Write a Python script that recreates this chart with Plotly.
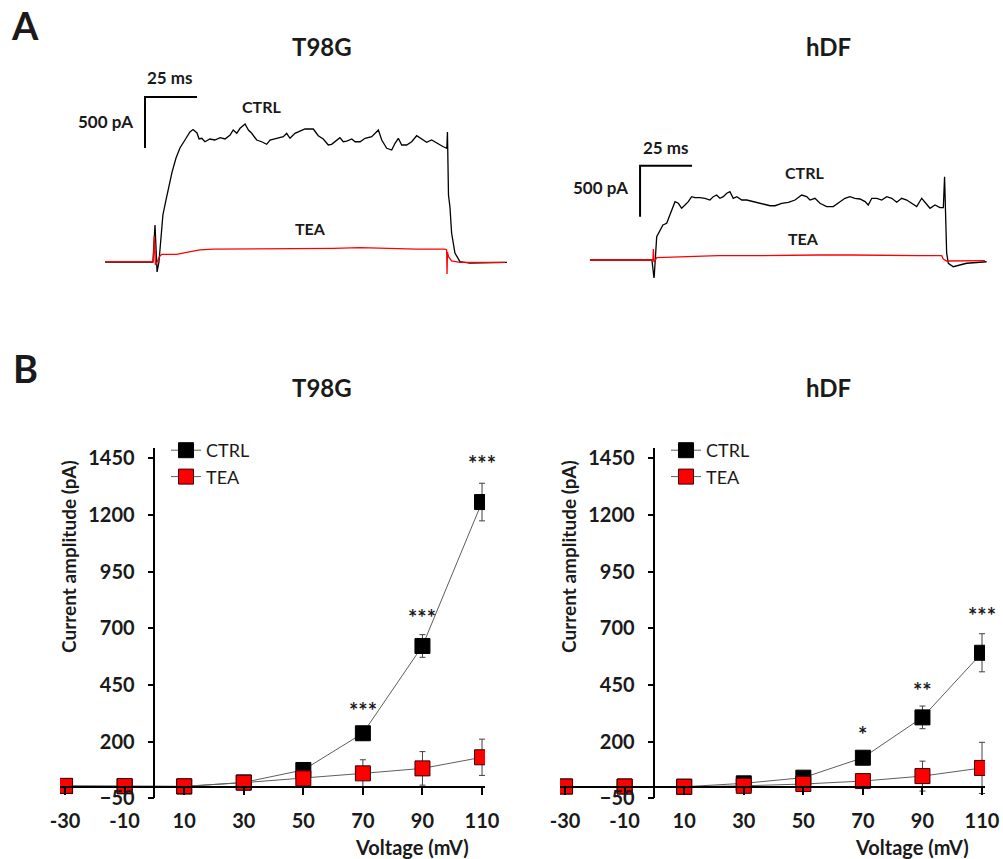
import plotly.graph_objects as go

# ---------------- DATA ----------------
voltages = [-30, -10, 10, 30, 50, 70, 90, 110]
tick_voltages = [-30, -10, 10, 30, 50, 70, 90, 110]
y_ticks = [-50, 200, 450, 700, 950, 1200, 1450]

t98g_ctrl = [4, 3, 2, 20, 75, 237, 622, 1257]
t98g_ctrl_err = [0, 0, 0, 5, 10, 30, 50, 83]
t98g_tea = [5, 4, 3, 19, 38, 60, 82, 131]
t98g_tea_err = [0, 0, 0, 5, 10, 60, 74, 80]

hdf_ctrl = [2, 2, 1, 16, 41, 129, 307, 592]
hdf_ctrl_err = [0, 0, 0, 4, 8, 27, 50, 84]
hdf_tea = [2, 2, 1, 5, 13, 26, 48, 84]
hdf_tea_err = [0, 0, 0, 3, 8, 30, 66, 113]

t98g_star_v = [70, 90, 110]
t98g_star_y = [366, 773, 1453]
t98g_star_txt = ["***", "***", "***"]
hdf_star_v = [70, 90, 110]
hdf_star_y = [259, 450, 784]
hdf_star_txt = ["*", "**", "***"]

# Panel A current traces (time in ms from step onset, current in pA)
t98g_trace_ctrl_t = [-24.0, -1.0, 0.0, 1.0, 1.9, 2.9, 3.8, 5.3, 6.7, 8.2, 10.1, 12.0, 14.4, 16.8, 18.3,
                     20.2, 21.2, 22.5, 24.0, 26.4, 28.8, 31.3, 33.7, 36.1, 37.6, 39.3, 40.9, 43.3, 44.9,
                     46.5, 48.9, 51.3, 53.7, 55.3, 58.5, 61.7, 63.3, 64.9, 67.3, 70.5, 72.1, 76.1, 78.5,
                     80.9, 83.3, 84.9, 87.4, 88.9, 90.5, 92.2, 94.6, 96.2, 98.6, 101.0, 104.2, 107.4,
                     109.0, 111.4, 113.8, 115.4, 117.0, 118.6, 121.0, 123.4, 125.8, 128.2, 130.6, 133.0,
                     135.4, 138.6, 140.3, 140.6, 141.1, 141.8, 142.6, 144.2, 146.6, 151.4, 169.2]
t98g_trace_ctrl_i = [0, 0, 363, -98, 0, 265, 461, 608, 755, 882, 1020, 1118, 1196, 1275, 1299,
                     1265, 1206, 1213, 1179, 1206, 1196, 1219, 1206, 1245, 1294, 1262, 1311, 1353, 1294,
                     1262, 1196, 1179, 1154, 1196, 1213, 1228, 1262, 1213, 1262, 1294, 1304, 1304, 1238,
                     1206, 1147, 1154, 1196, 1219, 1179, 1186, 1206, 1179, 1179, 1213, 1228, 1294,
                     1196, 1115, 1098, 1164, 1213, 1147, 1147, 1179, 1238, 1206, 1173, 1196,
                     1164, 1130, 1115, 1275, 657, 539, 284, 88, 3, -10, -3]
t98g_trace_tea_t = [-24.0, -0.8, -0.3, 0.2, 1.0, 2.1, 3.2, 10.4, 15.2, 21.6, 28.0, 37.6, 53.7, 69.7,
                    85.7, 98.6, 109.8, 125.8, 139.4, 140.2, 140.4, 140.6, 141.1, 142.6, 146.6, 168.3]
t98g_trace_tea_i = [3, 3, 255, -29, 0, 52, 75, 75, 95, 118, 127, 127, 127, 134,
                    134, 140, 134, 127, 127, 118, -118, 98, 52, 10, -3, -3]

hdf_trace_ctrl_t = [-30.8, -1.0, 0.0, 0.1, 1.3, 2.9, 4.3, 6.1, 7.7, 9.3, 10.1, 11.7, 13.3, 14.9, 16.5,
                    18.1, 19.7, 22.1, 24.5, 26.9, 28.5, 30.1, 31.7, 33.3, 35.0, 36.5, 38.1, 39.8, 42.2,
                    44.6, 47.7, 50.1, 53.4, 55.8, 58.2, 61.4, 64.6, 67.8, 71.0, 73.4, 75.0, 77.4, 79.8,
                    83.0, 86.2, 89.4, 91.8, 94.2, 96.6, 99.0, 101.5, 103.0, 104.7, 107.1, 109.5, 111.9,
                    114.3, 116.7, 119.1, 121.5, 123.9, 126.3, 128.7, 131.1, 132.7, 135.1, 137.5, 139.1,
                    139.7, 140.7, 141.5, 143.9, 150.3, 159.9]
hdf_trace_ctrl_i = [0, 0, -176, -164, 228, 294, 343, 360, 441, 523, 572, 556, 507, 539, 572,
                    621, 611, 611, 605, 588, 621, 637, 605, 621, 654, 670, 605, 621, 588,
                    588, 572, 556, 546, 532, 532, 556, 566, 588, 637, 621, 588, 605, 556,
                    523, 523, 572, 605, 621, 605, 598, 572, 539, 605, 605, 588, 621,
                    605, 566, 605, 588, 556, 523, 605, 546, 507, 539, 513, 513,
                    817, 69, -32, -66, -32, -17]
hdf_trace_tea_t = [-30.8, -0.5, -0.3, 0.0, 1.3, 14.9, 30.9, 47.0, 63.0, 79.0, 95.1, 111.1, 127.1,
                   138.3, 139.1, 140.7, 143.1, 159.1]
hdf_trace_tea_i = [0, 0, 108, -20, 23, 32, 42, 42, 49, 49, 49, 42, 42,
                   42, 10, -10, -10, -7]

SCALE_MS = 25
SCALE_PA = 500

# ---------------- LAYOUT HELPERS ----------------
W, H = 1003, 859


def px(x):
    return x / W


def py(y):
    return 1 - y / H


FONT = "Lato"
DARK = "#1a1a1a"
LINE_GREY = "#5e5e5e"
ERR_COL = "#404040"

fig = go.Figure()


def add_iv(xa, ya, ctrl, ctrl_err, tea, tea_err, legend):
    fig.add_trace(go.Scatter(
        x=voltages, y=ctrl, xaxis=xa, yaxis=ya, mode="lines+markers", name="CTRL",
        line=dict(color=LINE_GREY, width=1),
        marker=dict(symbol="square", size=15, color="black", line=dict(color="black", width=1)),
        error_y=dict(type="data", array=ctrl_err, color=ERR_COL, thickness=1, width=3),
        legend=legend, legendgroup=legend + "c", showlegend=True))
    fig.add_trace(go.Scatter(
        x=voltages, y=tea, xaxis=xa, yaxis=ya, mode="lines+markers", name="TEA",
        line=dict(color=LINE_GREY, width=1),
        marker=dict(symbol="square", size=15, color="#ff0000", line=dict(color="#3a0000", width=1)),
        error_y=dict(type="data", array=tea_err, color=ERR_COL, thickness=1, width=3),
        legend=legend, legendgroup=legend + "t", showlegend=True))


add_iv("x", "y", t98g_ctrl, t98g_ctrl_err, t98g_tea, t98g_tea_err, "legend")
add_iv("x2", "y2", hdf_ctrl, hdf_ctrl_err, hdf_tea, hdf_tea_err, "legend2")


def add_traces(xa, ya, ct, ci, tt, ti, corner_t, corner_i):
    fig.add_trace(go.Scatter(x=ct, y=ci, xaxis=xa, yaxis=ya, mode="lines",
                             line=dict(color="black", width=1.3), showlegend=False, hoverinfo="skip"))
    fig.add_trace(go.Scatter(x=tt, y=ti, xaxis=xa, yaxis=ya, mode="lines",
                             line=dict(color="#ff0000", width=1.3), showlegend=False, hoverinfo="skip"))
    # scale bar
    fig.add_trace(go.Scatter(
        x=[corner_t + SCALE_MS, corner_t, corner_t],
        y=[corner_i, corner_i, corner_i - SCALE_PA],
        xaxis=xa, yaxis=ya, mode="lines", line=dict(color="black", width=2),
        showlegend=False, hoverinfo="skip"))


add_traces("x3", "y3", t98g_trace_ctrl_t, t98g_trace_ctrl_i, t98g_trace_tea_t, t98g_trace_tea_i, -4.8, 1618)
add_traces("x4", "y4", hdf_trace_ctrl_t, hdf_trace_ctrl_i, hdf_trace_tea_t, hdf_trace_tea_i, -6.7, 925)

# ---------------- AXES ----------------
xtickfont = dict(family=FONT, size=20, color=DARK, weight="bold")
ytickfont = dict(family=FONT, size=20, color=DARK, weight="bold")


def xaxis_cfg(x0, x1, zero_py):
    return dict(domain=[px(x0), px(x1)], range=[-31.7, 111.0], anchor="free", position=py(zero_py),
                tickvals=tick_voltages, ticktext=[str(v) for v in tick_voltages],
                showline=True, linecolor="black", linewidth=1.5, ticks="outside", ticklen=7,
                tickcolor="black", tickwidth=1.5, tickfont=xtickfont, ticklabelstandoff=9,
                showgrid=False, zeroline=False, fixedrange=True, automargin=False)


def yaxis_cfg(xpos):
    return dict(domain=[py(798.3), py(448.1)], range=[-50, 1495], anchor="free", position=px(xpos),
                tickvals=y_ticks, showline=True, linecolor="black", linewidth=1.5,
                ticks="outside", ticklen=6, tickcolor="black", tickwidth=1.5,
                tickfont=ytickfont, ticklabelstandoff=9, showgrid=False, zeroline=False,
                fixedrange=True, automargin=False)


hidden = dict(visible=False, showgrid=False, zeroline=False, fixedrange=True, automargin=False)

fig.update_layout(
    width=W, height=H, margin=dict(l=0, r=0, t=0, b=0, autoexpand=False),
    paper_bgcolor="white", plot_bgcolor="rgba(0,0,0,0)",
    font=dict(family=FONT, color=DARK),
    xaxis=xaxis_cfg(60, 485, 787.0),
    yaxis=yaxis_cfg(154.4),
    xaxis2=xaxis_cfg(560, 985, 787.0),
    yaxis2=yaxis_cfg(654.4),
    xaxis3=dict(domain=[px(100), px(510)], range=[-26.44, 170.67], anchor="y3", **hidden),
    yaxis3=dict(domain=[py(280), py(90)], range=[-176.5, 1686.3], anchor="x3", **hidden),
    xaxis4=dict(domain=[px(585), px(1000)], range=[-33.17, 166.35], anchor="y4", **hidden),
    yaxis4=dict(domain=[py(285), py(150)], range=[-245.1, 1078.4], anchor="x4", **hidden),
    legend=dict(x=px(166), y=py(432), xanchor="left", yanchor="top", bgcolor="rgba(0,0,0,0)",
                font=dict(family=FONT, size=18, color=DARK), tracegroupgap=0, itemclick=False),
    legend2=dict(x=px(666), y=py(432), xanchor="left", yanchor="top", bgcolor="rgba(0,0,0,0)",
                 font=dict(family=FONT, size=18, color=DARK), tracegroupgap=0, itemclick=False),
    showlegend=True,
)

ann = []


def txt(x, y, s, size, **kw):
    ann.append(dict(x=px(x), y=py(y), xref="paper", yref="paper", text=s, showarrow=False,
                    xanchor="center", yanchor="middle",
                    font=dict(family=FONT, size=size, color=DARK, weight="bold"), **kw))


# panel letters
txt(25, 25, "A", 38)
txt(25, 368, "B", 38)
# titles
txt(322, 47, "T98G", 24)
txt(828, 47, "hDF", 24)
txt(322, 388, "T98G", 24)
txt(828, 388, "hDF", 24)
# panel A labels
txt(170, 78, "25 ms", 17)
txt(105, 121, "500 pA", 17)
txt(261, 107, "CTRL", 16)
txt(310, 228, "TEA", 16)
txt(666, 147, "25 ms", 17)
txt(600, 187, "500 pA", 17)
txt(804, 172, "CTRL", 16)
txt(803, 238, "TEA", 16)
# axis titles
for off in (0, 500):
    txt(68 + off, 557, "Current amplitude (pA)", 19, textangle=-90)
    txt(412 + off, 847, "Voltage (mV)", 20)

# significance stars
for xr, yr, vs, ys, ts in (("x", "y", t98g_star_v, t98g_star_y, t98g_star_txt),
                           ("x2", "y2", hdf_star_v, hdf_star_y, hdf_star_txt)):
    for v, yv, t in zip(vs, ys, ts):
        ann.append(dict(x=v, y=yv, xref=xr, yref=yr, text=t, showarrow=False,
                        xanchor="center", yanchor="middle", yshift=-6,
                        font=dict(family=FONT, size=22, color=DARK, weight="bold")))

fig.update_layout(annotations=ann)
fig.write_html("out.html")
